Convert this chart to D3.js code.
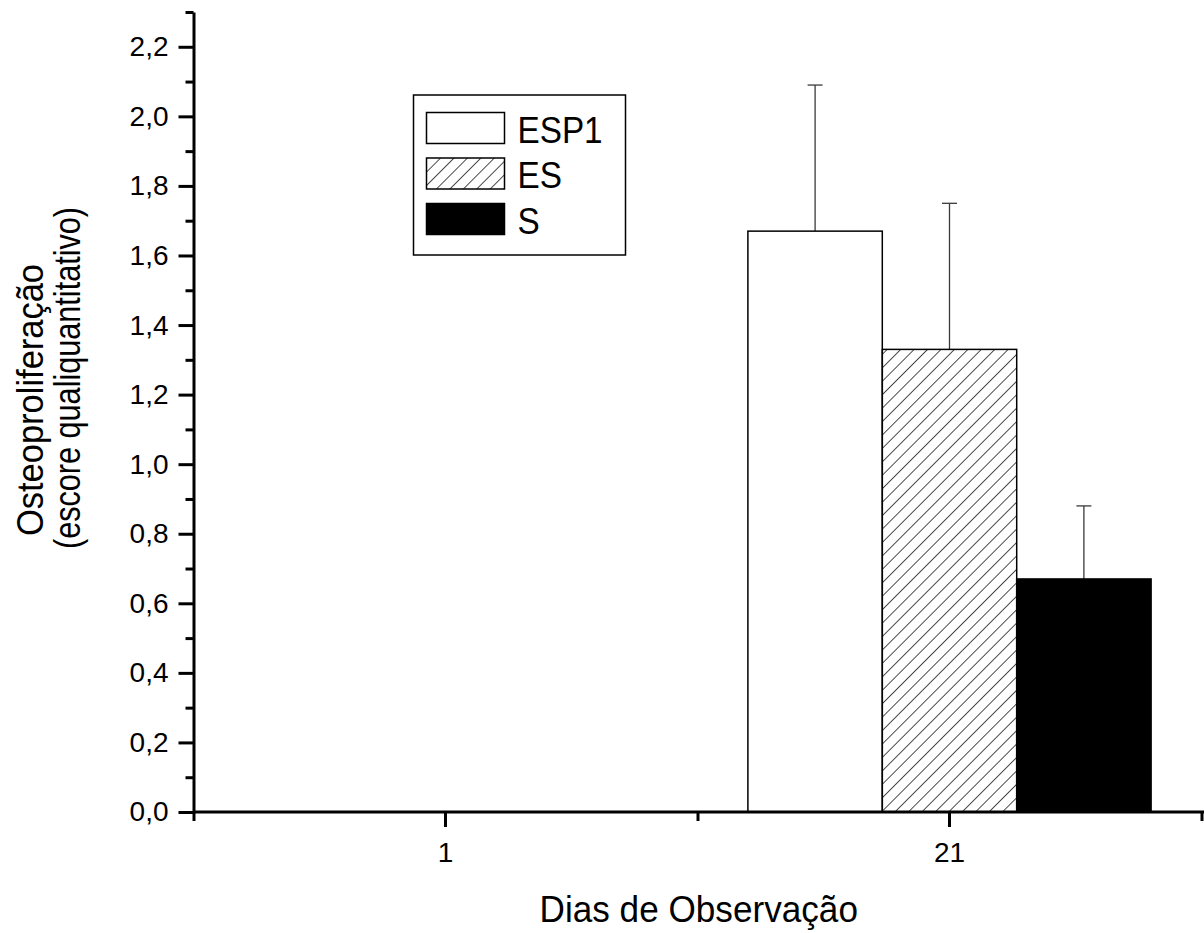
<!DOCTYPE html>
<html>
<head>
<meta charset="utf-8">
<script src="https://cdn.jsdelivr.net/npm/d3@7"></script>
<style>
  body { margin: 0; background: #fff; }
  svg { display: block; font-family: "Liberation Sans", Arial, Helvetica, sans-serif; }
</style>
</head>
<body>
<svg id="chart" width="1204" height="933"></svg>
<script>
// data
var days = ["1", "21"];
var groups = ["ESP1", "ES", "S"];
var esp1 = [0, 1.67];
var es = [0, 1.33];
var s = [0, 0.67];
var esp1Err = [0, 0.42];
var esErr = [0, 0.42];
var sErr = [0, 0.21];
var yTicks = [0, 0.2, 0.4, 0.6, 0.8, 1.0, 1.2, 1.4, 1.6, 1.8, 2.0, 2.2];
var yMinor = [0.1, 0.3, 0.5, 0.7, 0.9, 1.1, 1.3, 1.5, 1.7, 1.9, 2.1, 2.3];

var values = { "ESP1": esp1, "ES": es, "S": s };
var errors = { "ESP1": esp1Err, "ES": esErr, "S": sErr };
var fills = { "ESP1": "#fff", "ES": "url(#hatch)", "S": "#000" };

var svg = d3.select("#chart");

var plotL = 193.5, plotR = 1201.5, plotT = 12, plotB = 812;

var x = d3.scaleBand().domain(days).range([plotL, plotR]).padding(0);
var xs = d3.scaleBand().domain(groups).range([0, x.bandwidth()]).paddingInner(0).paddingOuter(0.375);
var y = d3.scaleLinear().domain([0, 2.3]).range([plotB, plotT]);

var fmt = d3.formatLocale({ decimal: ",", thousands: ".", grouping: [3], currency: ["", ""] }).format(".1f");

// hatch pattern
var defs = svg.append("defs");
defs.append("pattern")
    .attr("id", "hatch")
    .attr("patternUnits", "userSpaceOnUse")
    .attr("width", 9.5)
    .attr("height", 9.5)
    .attr("patternTransform", "rotate(45)")
  .append("line")
    .attr("x1", 0).attr("y1", -1)
    .attr("x2", 0).attr("y2", 11)
    .attr("stroke", "#000")
    .attr("stroke-width", 1.4);

// bars
var rows = [];
days.forEach(function(d, i) {
    groups.forEach(function(g) {
        rows.push({ day: d, group: g, v: values[g][i], e: errors[g][i] });
    });
});

function cx(r) { return x(r.day) + xs(r.group) + xs.bandwidth() / 2; }

// error bars (upper only), drawn behind bars
var eb = svg.append("g").selectAll("g")
    .data(rows.filter(function(r) { return r.e > 0; }))
    .join("g")
    .attr("stroke", "#3a3a3a")
    .attr("stroke-width", 1.3);
eb.append("line")
    .attr("x1", cx)
    .attr("x2", cx)
    .attr("y1", function(r) { return y(r.v); })
    .attr("y2", function(r) { return y(r.v + r.e); });
eb.append("line")
    .attr("x1", function(r) { return cx(r) - 7.5; })
    .attr("x2", function(r) { return cx(r) + 7.5; })
    .attr("y1", function(r) { return y(r.v + r.e); })
    .attr("y2", function(r) { return y(r.v + r.e); });

svg.append("g").selectAll("rect")
    .data(rows.filter(function(r) { return r.v > 0; }))
    .join("rect")
    .attr("x", function(r) { return x(r.day) + xs(r.group); })
    .attr("y", function(r) { return y(r.v); })
    .attr("width", xs.bandwidth())
    .attr("height", function(r) { return y(0) - y(r.v); })
    .attr("fill", function(r) { return fills[r.group]; })
    .attr("stroke", "#000")
    .attr("stroke-width", 1.5);

// y axis
svg.append("g")
    .attr("transform", "translate(" + plotL + ",0)")
    .call(d3.axisLeft(y).tickValues(yTicks).tickFormat(fmt).tickSize(15).tickPadding(10).tickSizeOuter(0));
svg.append("g")
    .attr("transform", "translate(" + plotL + ",0)")
    .call(d3.axisLeft(y).tickValues(yMinor).tickSize(8).tickFormat("").tickSizeOuter(0))
    .select(".domain").remove();

// x axis
var xAxis = svg.append("g")
    .attr("transform", "translate(0," + plotB + ")")
    .call(d3.axisBottom(x).tickSize(15).tickPadding(15).tickSizeOuter(0));
svg.append("g")
    .attr("transform", "translate(0," + plotB + ")")
    .call(d3.axisBottom(d3.scaleLinear().domain([0, days.length]).range([plotL, plotR]))
        .tickValues(d3.range(days.length + 1)).tickSize(9).tickFormat("").tickSizeOuter(0))
    .select(".domain").remove();
xAxis.select(".domain").attr("d", "M" + plotL + ",0H1204");

svg.selectAll(".domain").attr("stroke", "#000").attr("stroke-width", 3);
svg.selectAll(".tick line").attr("stroke", "#000").attr("stroke-width", 3);
svg.selectAll(".tick text").attr("fill", "#000").attr("font-size", 28).attr("font-family", null);

// axis titles
svg.append("text")
    .attr("transform", "translate(" + ((plotL + 1204) / 2) + ",922) scale(0.95,1)")
    .attr("text-anchor", "middle")
    .attr("font-size", 37)
    .text("Dias de Observação");

svg.append("text")
    .attr("transform", "translate(43,400) rotate(-90)")
    .attr("text-anchor", "middle")
    .attr("font-size", 36)
    .attr("textLength", 272)
    .attr("lengthAdjust", "spacingAndGlyphs")
    .text("Osteoproliferação");
svg.append("text")
    .attr("transform", "translate(80,378) rotate(-90)")
    .attr("text-anchor", "middle")
    .attr("font-size", 36)
    .attr("textLength", 342)
    .attr("lengthAdjust", "spacingAndGlyphs")
    .text("(escore qualiquantitativo)");

// legend
var legend = svg.append("g").attr("transform", "translate(413.5,95)");
legend.append("rect")
    .attr("width", 212)
    .attr("height", 160)
    .attr("fill", "#fff")
    .attr("stroke", "#000")
    .attr("stroke-width", 1.5);
var item = legend.selectAll("g.item")
    .data(groups)
    .join("g")
    .attr("class", "item")
    .attr("transform", function(g, i) { return "translate(13," + (17.5 + i * 45.5) + ")"; });
item.append("rect")
    .attr("width", 78)
    .attr("height", 31)
    .attr("fill", function(g) { return fills[g]; })
    .attr("stroke", "#000")
    .attr("stroke-width", 1.5);
item.append("text")
    .attr("transform", "translate(91,30) scale(0.9,1)")
    .attr("font-size", 37)
    .text(function(g) { return g; });
</script>
</body>
</html>
